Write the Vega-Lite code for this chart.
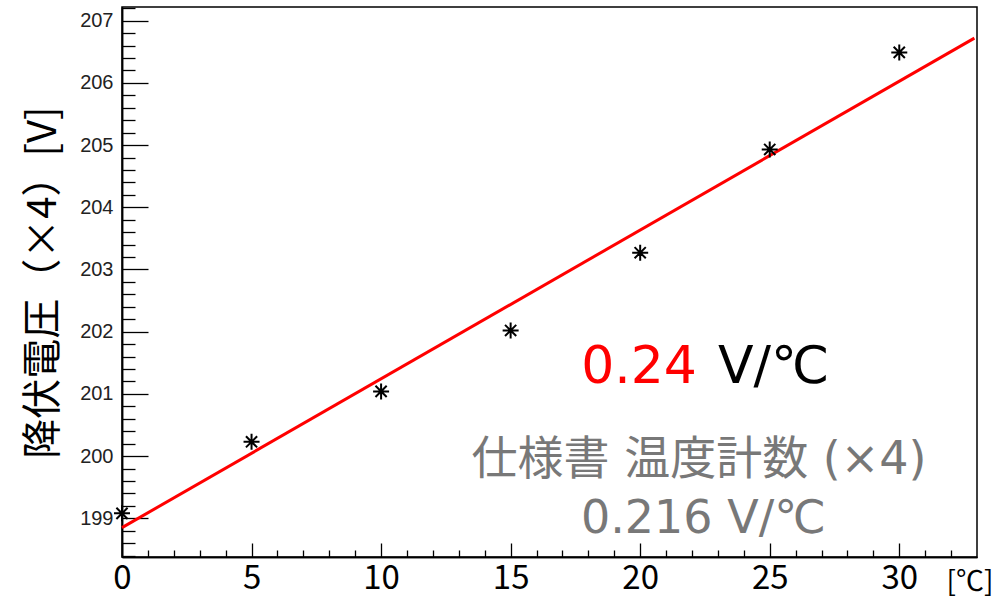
{
  "$schema": "https://vega.github.io/schema/vega-lite/v6.json",
  "width": 855,
  "height": 550,
  "autosize": "none",
  "padding": {"left": 122, "top": 7, "right": 23, "bottom": 40},
  "background": "white",
  "config": {
    "view": {"stroke": "black", "strokeWidth": 1.5},
    "axis": {
      "grid": false,
      "domainColor": "black",
      "domainWidth": 1.5,
      "tickColor": "black",
      "tickWidth": 1.3,
      "labelFlush": false,
      "labelOverlap": false
    }
  },
  "datasets": {
    "fit": [{"t": 0, "v": 198.85}, {"t": 32.9, "v": 206.72}],
    "meas": [
      {"t": 0, "v": 199.08},
      {"t": 5, "v": 200.23},
      {"t": 10, "v": 201.04},
      {"t": 15, "v": 202.02},
      {"t": 20, "v": 203.27},
      {"t": 25, "v": 204.93},
      {"t": 30, "v": 206.49}
    ]
  },
  "resolve": {"axis": {"x": "independent", "y": "independent"}},
  "layer": [
    {
      "data": {"name": "fit"},
      "mark": {"type": "line", "color": "#ff0000", "strokeWidth": 3},
      "encoding": {
        "x": {
          "field": "t", "type": "quantitative",
          "scale": {"domain": [0, 33], "nice": false, "zero": false},
          "axis": {
            "orient": "bottom",
            "values": [0, 5, 10, 15, 20, 25, 30],
            "tickSize": -14,
            "labelFont": "Noto Sans CJK JP",
            "labelFontSize": 33,
            "labelColor": "black",
            "labelPadding": 19,
            "title": "[℃]",
            "titleFont": "Noto Sans CJK JP",
            "titleFontSize": 28,
            "titleFontWeight": "normal",
            "titleColor": "black",
            "titleAnchor": null,
            "titleAlign": "left",
            "titleBaseline": "alphabetic",
            "titleX": 824,
            "titleY": 33
          }
        },
        "y": {
          "field": "v", "type": "quantitative",
          "scale": {"domain": [198.378, 207.22], "nice": false, "zero": false},
          "axis": {
            "orient": "left",
            "values": [199, 200, 201, 202, 203, 204, 205, 206, 207],
            "tickSize": -26,
            "labelFont": "Liberation Sans",
            "labelFontSize": 20,
            "labelColor": "#222222",
            "labelPadding": 35,
            "title": "降伏電圧（×4）[V]",
            "titleFont": "Noto Sans CJK JP",
            "titleFontSize": 40,
            "titleFontWeight": "normal",
            "titleColor": "black",
            "titlePadding": 16
          }
        }
      }
    },
    {
      "data": {"name": "meas"},
      "mark": {
        "type": "point",
        "shape": "M-1,0L1,0M0,-1L0,1M-0.7,-0.7L0.7,0.7M-0.7,0.7L0.7,-0.7",
        "size": 256,
        "filled": false,
        "stroke": "black",
        "strokeWidth": 2,
        "opacity": 1
      },
      "encoding": {
        "x": {
          "field": "t", "type": "quantitative",
          "axis": {
            "orient": "bottom",
            "values": [1, 2, 3, 4, 6, 7, 8, 9, 11, 12, 13, 14, 16, 17, 18, 19, 21, 22, 23, 24, 26, 27, 28, 29, 31, 32],
            "tickSize": -7,
            "labels": false,
            "title": null
          }
        },
        "y": {
          "field": "v", "type": "quantitative",
          "axis": {
            "orient": "left",
            "values": [198.4, 198.6, 198.8, 199.2, 199.4, 199.6, 199.8, 200.2, 200.4, 200.6, 200.8, 201.2, 201.4, 201.6, 201.8, 202.2, 202.4, 202.6, 202.8, 203.2, 203.4, 203.6, 203.8, 204.2, 204.4, 204.6, 204.8, 205.2, 205.4, 205.6, 205.8, 206.2, 206.4, 206.6, 206.8, 207.2],
            "tickSize": -13,
            "labels": false,
            "title": null
          }
        }
      }
    },
    {
      "data": {"values": [{"t": 22.19, "v": 201.18, "label": "0.24"}]},
      "mark": {"type": "text", "align": "right", "baseline": "alphabetic", "font": "DejaVu Sans", "fontSize": 52, "color": "#ff0000"},
      "encoding": {
        "x": {"field": "t", "type": "quantitative", "axis": null},
        "y": {"field": "v", "type": "quantitative", "axis": null},
        "text": {"field": "label"}
      }
    },
    {
      "data": {"values": [{"t": 23.0, "v": 201.18, "label": "V/℃"}]},
      "mark": {"type": "text", "align": "left", "baseline": "alphabetic", "font": "DejaVu Sans", "fontSize": 52, "color": "black"},
      "encoding": {
        "x": {"field": "t", "type": "quantitative", "axis": null},
        "y": {"field": "v", "type": "quantitative", "axis": null},
        "text": {"field": "label"}
      }
    },
    {
      "data": {"values": [
        {"t": 22.27, "v": 199.71, "label": "仕様書 温度計数 (×4)"},
        {"t": 22.44, "v": 198.77, "label": "0.216 V/℃"}
      ]},
      "mark": {"type": "text", "align": "center", "baseline": "alphabetic", "font": "'DejaVu Sans', 'Noto Sans CJK JP'", "fontSize": 46, "color": "#787878"},
      "encoding": {
        "x": {"field": "t", "type": "quantitative", "axis": null},
        "y": {"field": "v", "type": "quantitative", "axis": null},
        "text": {"field": "label"}
      }
    }
  ]
}
